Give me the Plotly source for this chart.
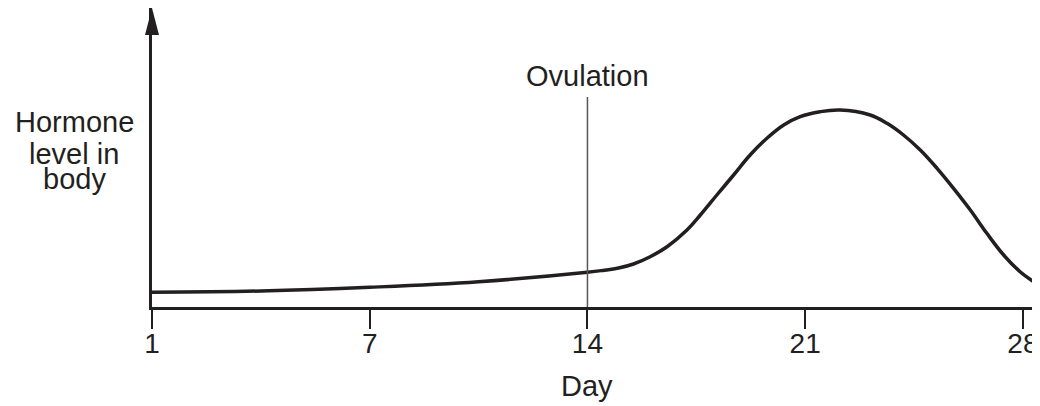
import plotly.graph_objects as go

# x positions on the chart's day axis (tick marks equally spaced, first labelled "1")
days = [0, 3.5, 7, 10.5, 14, 14.5, 15.0, 15.48, 16.0, 16.56, 17.2, 17.63, 18.16, 18.7, 19.23,
        19.77, 20.31, 20.84, 21.48, 22.12, 23.09, 23.63, 24.16, 24.7, 25.24,
        25.77, 26.31, 26.84, 27.38, 27.91, 28.45, 28.6]
hormone_level = [14.7, 16, 19.7, 25.3, 34.7, 36.6, 39, 43, 50, 60.3, 77, 92, 112, 132, 152,
                 168.7, 182, 190.3, 195.3, 197, 192, 183.7, 172, 157, 138.7,
                 118.7, 97, 73.7, 52, 35.3, 23, 20]
tick_positions = [0, 7, 14, 21, 28]
tick_labels = ["1", "7", "14", "21", "28"]
ovulation_day = 14
y_label_lines = ["Hormone", "level in", "body"]

INK = "#231f20"
FONT = "Liberation Sans, Arial, sans-serif"
FS = 29
W, H = 1032, 398          # page body has an 8px margin inside the 1040x406 window
L, T = 144, 0
PH = 299
B = H - T - PH
PW = W - L

fig = go.Figure()
fig.add_trace(go.Scatter(
    x=days, y=hormone_level, mode="lines",
    line=dict(color=INK, width=3.5, shape="spline", smoothing=1.1),
    hoverinfo="skip", showlegend=False, cliponaxis=True,
))

fig.update_layout(
    width=W, height=H,
    margin=dict(l=L, r=0, t=T, b=B, pad=0, autoexpand=False),
    paper_bgcolor="white", plot_bgcolor="white",
    font=dict(family=FONT, size=FS, color=INK),
    xaxis=dict(
        range=[0, 28.55], showgrid=False, zeroline=False,
        showline=True, linecolor=INK, linewidth=2.5,
        tickmode="array", tickvals=tick_positions, ticktext=tick_labels,
        ticks="outside", ticklen=19, tickwidth=2, tickcolor=INK,
        ticklabelstandoff=-9,
        tickfont=dict(family=FONT, size=28, color=INK),
    ),
    yaxis=dict(
        range=[0, 299], showgrid=False, zeroline=False,
        showline=True, linecolor=INK, linewidth=2.5,
        showticklabels=False, ticks="",
    ),
)

# Arrow head on the y axis (paper coords so it is not clipped)
hw = 7 / PW
base = (PH - 27) / PH
fig.add_shape(type="path", xref="paper", yref="paper",
              path=f"M {-hw},{base} L 0,1.0 L {hw},{base} Z",
              fillcolor=INK, line=dict(color=INK, width=0))

# Ovulation line
fig.add_shape(type="line", xref="x", yref="y",
              x0=ovulation_day, x1=ovulation_day, y0=0, y1=210,
              line=dict(color="#555555", width=1.5))
fig.add_annotation(x=ovulation_day, xref="x", y=231.5, yref="y",
                   text="Ovulation", showarrow=False,
                   font=dict(family=FONT, size=FS, color=INK),
                   xanchor="center", yanchor="middle")

# y-axis label (three lines)
ylab_x = (74 - 8 - L) / PW
for yy, line in zip([184.5, 153, 127.5], y_label_lines):
    fig.add_annotation(x=ylab_x, xref="paper", y=yy / PH, yref="paper",
                       text=line, showarrow=False,
                       font=dict(family=FONT, size=FS, color=INK),
                       xanchor="center", yanchor="middle")

# x-axis title
fig.add_annotation(x=ovulation_day, xref="x", y=-79 / PH, yref="paper",
                   text="Day", showarrow=False,
                   font=dict(family=FONT, size=FS, color=INK),
                   xanchor="center", yanchor="middle")

fig.write_html("out.html")
